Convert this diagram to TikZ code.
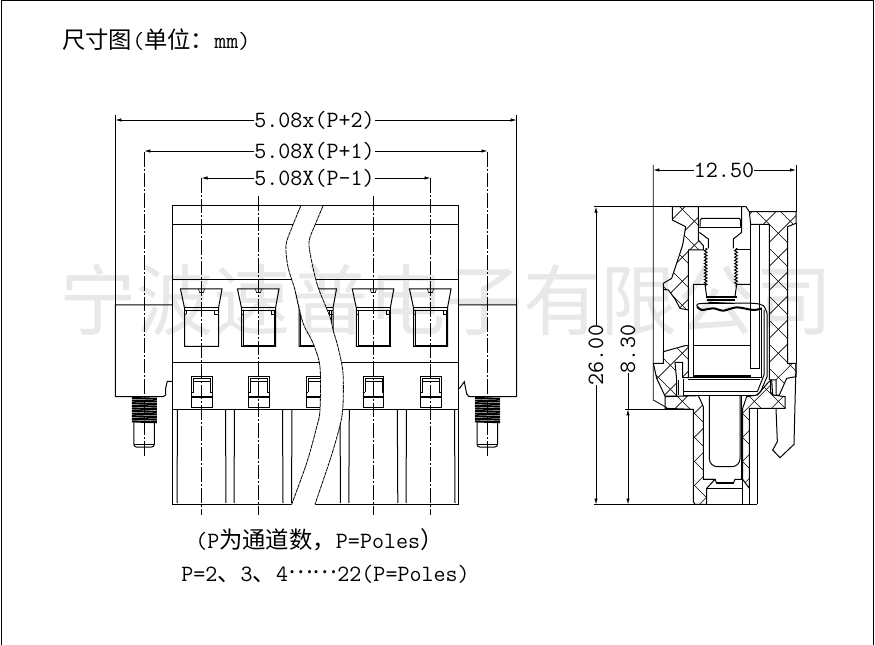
\documentclass[tikz,border=0pt]{standalone}
\usepackage{fontspec}
\newfontfamily\cjk{Noto Sans CJK SC}
\usetikzlibrary{arrows.meta, decorations.pathmorphing}
\tikzset{
	dimtext/.style={font=\ttfamily\fontsize{17.5}{20}\selectfont, inner sep=0pt},
	dimarrow/.style={-{Latex[length=4.5pt,width=2.6pt]}, line width=0.6pt},
	extline/.style={line width=0.6pt},
	cline/.style={line width=0.6pt, dash pattern=on 11pt off 1.5pt on 1.5pt off 1.5pt},
	breakline/.style={line width=0.6pt, dash pattern=on 3pt off 0.5pt},
	part/.style={line width=0.75pt},
	heavy/.style={line width=1.5pt},
	thin part/.style={line width=0.45pt},
}
\newcommand{\hatchlines}{%
	\foreach \c in {-948,-876,...,1100} {\draw[thin part] (-100,-100+\c) -- (600,600+\c);}
	\foreach \c in {26,98,...,1700} {\draw[thin part] (-100,\c+100) -- (600,\c-600);}
}
\newcommand{\hatchzone}[1]{\begin{scope}\clip #1;\hatchlines\end{scope}\draw[part] #1;}
\newcommand{\threadbar}[1]{%
	\foreach \y in {398,400.6,...,422} {\draw[line width=1.6pt] (#1-12.5,\y) -- (#1+12.5,\y+0.8);}
	\draw[part, rounded corners=2] (#1-10.5,423) -- (#1-10.5,447) -- (#1+10,447) -- (#1+10,423);
	\draw[thin part] (#1-10.5,444.5) -- (#1+10,444.5);
}
\begin{document}
\begin{tikzpicture}[x=0.75pt, y=-0.75pt]
	\useasboundingbox (0,0) rectangle (875,645);
	% frame
	\draw[part] (1,645) -- (1,1) -- (873.5,1) -- (873.5,645);
	% front view, body
	\draw[part] (172.5,206) rectangle (458.3,504.3);
	\draw[part] (172.5,225) -- (458.3,225);
	\draw[part] (172.5,280) -- (458.3,280);
	\draw[part] (172.5,363) -- (458.3,363);
	\draw[part] (172.5,409.5) -- (458.3,409.5);
	\foreach \cx in {201.5,258.5,316,373.3,430.5} {
		\draw[part] (\cx-21,289) -- (\cx+20.5,289) -- (\cx+17,308) -- (\cx+17,346.5) -- (\cx-17,346.5) -- (\cx-17,308) -- cycle;
		\draw[part] (\cx-17,308) -- (\cx+17,308);
		\draw[thin part] (\cx-17,310) -- (\cx+17,310);
		\draw[thin part] (\cx-3,289) -- (\cx-2,292.5) -- (\cx+2,292.5) -- (\cx+3,289);
		\draw[thin part] (\cx-15,310) -- (\cx-15,314) -- (\cx-17,315);
		\draw[thin part] (\cx+13,310) -- (\cx+13,314) -- (\cx+17,314);
		\draw[part] (\cx-10,377) rectangle (\cx+10.5,407);
		\draw[heavy] (\cx-10,397) -- (\cx+10.5,397);
		\draw[thin part] (\cx-8,392) -- (\cx-8,378.5) -- (\cx+8.5,378.5) -- (\cx+8.5,392);
		\draw[thin part] (\cx-8,381) -- (\cx+8.5,381);
		\draw[thin part] (\cx-10,392) -- (\cx-8,392);
		\draw[thin part] (\cx+10.5,392) -- (\cx+8.5,392);
		\draw[part] (\cx-24,409.5) -- (\cx-24.5,503);
		\draw[part] (\cx+24,409.5) -- (\cx+24.5,503);
	}
	\foreach \cx in {258.5,316,373.3,430.5} {
		\draw[thin part] (\cx-15.5,310) -- (\cx-15.5,345) -- (\cx+15.5,345) -- (\cx+15.5,310);
	}
	% break in the body
	\fill[white] plot[smooth] coordinates {(300.7,206) (291.7,228) (286,245) (288,267) (295,290) (303,323) (313,343) (320,367) (320,410) (316.7,427) (306.7,463) (291.7,504.8)}
		-- plot[smooth] coordinates {(315,504.8) (330,460) (338,433) (342.7,410) (343,373) (338,347) (333,330) (330,317) (318,287) (312,263) (309,242) (315,225) (323,206)} -- cycle;
	\draw[breakline] plot[smooth] coordinates {(300.7,206) (291.7,228) (286,245) (288,267) (295,290) (303,323) (313,343) (320,367) (320,410) (316.7,427) (306.7,463) (291.7,504.3)};
	\draw[breakline] plot[smooth] coordinates {(323,206) (315,225) (309,242) (312,263) (318,287) (330,317) (333,330) (338,347) (343,373) (342.7,410) (338,433) (330,460) (315,504.3)};
	% flanges and screws
	\draw[part] (172.5,305) -- (115.3,305) -- (115.3,396.7) -- (163,396.7) -- (165.7,395) -- (165.7,388) -- (167.3,381.3) -- (172.5,381.3);
	\draw[part] (458.3,305) -- (516.7,305) -- (516.7,396.7) -- (469,396.7) -- (466.7,394) -- (464.3,381.7) -- (459.3,388.7);
	\threadbar{144.3}
	\threadbar{487.5}
	% centre lines
	\draw[cline] (144.3,152) -- (144.3,457);
	\draw[cline] (487.5,152) -- (487.5,457);
	\draw[cline] (201.5,178) -- (201.5,515);
	\draw[cline] (258.5,196) -- (258.5,515);
	\draw[cline] (373.3,196) -- (373.3,515);
	\draw[cline] (430.5,178) -- (430.5,515);
	% top dimensions
	\node[dimtext] (dimOuter) at (314.5,120) {5.08x(P+2)};
	\node[dimtext] (dimMiddle) at (314.5,151) {5.08X(P+1)};
	\node[dimtext] (dimInner) at (314.5,178) {5.08X(P-1)};
	\coordinate (outerL) at (115.3,120);
	\coordinate (outerR) at (516.7,120);
	\coordinate (middleL) at (144.3,151);
	\coordinate (middleR) at (487.5,151);
	\coordinate (innerL) at (201.5,178);
	\coordinate (innerR) at (430.5,178);
	\draw[extline] (115.3,115) -- (115.3,305);
	\draw[extline] (516.7,115) -- (516.7,305);
	\draw[dimarrow] (dimOuter) -- (outerL);
	\draw[dimarrow] (dimOuter) -- (outerR);
	\draw[dimarrow] (dimMiddle) -- (middleL);
	\draw[dimarrow] (dimMiddle) -- (middleR);
	\draw[dimarrow] (dimInner) -- (innerL);
	\draw[dimarrow] (dimInner) -- (innerR);
	% side view
	\begin{scope}[shift={(640,195)}, x=0.25pt, y=-0.25pt]
		\hatchzone{(97,35) -- (175,35) -- (175,135) -- (190,152) -- (190,165) -- (145,165) -- (145,345) -- (120,340) -- (105,312) -- (85,285) -- (70,283) -- (70,265) -- (95,250) -- (128,150) -- (137,95) -- (97,75) -- cycle}
		\hatchzone{(70,470) -- (135,452) -- (145,452) -- (145,548) -- (128,548) -- (128,502) -- (105,502) -- (110,555) -- (110,603) -- (75,603) -- (50,550) -- (40,505) -- (70,505) -- cycle}
		\hatchzone{(75,605) -- (175,602) -- (190,635) -- (190,853) -- (225,853) -- (200,880) -- (200,928) -- (165,928) -- (160,920) -- (160,643) -- (75,640) -- cycle}
		\hatchzone{(320,605) -- (352,600) -- (385,562) -- (395,555) -- (398,600) -- (435,605) -- (435,640) -- (328,640) -- (328,880) -- (308,853) -- (308,640) -- cycle}
		\hatchzone{(328,50) -- (468,50) -- (468,85) -- (443,95) -- (443,505) -- (468,505) -- (468,545) -- (440,550) -- (418,600) -- (408,600) -- (408,555) -- (388,555) -- (388,88) -- (332,88) -- cycle}
		% screw
		\draw[part] (175,35) -- (318,35) -- (328,50);
		\draw[part] (305,35) -- (305,112) -- (280,132) -- (280,160);
		\draw[part] (178,112) -- (205,132) -- (205,160);
		\draw[part] (180,95) -- (180,76) -- (185,70) -- (298,70) -- (302,76) -- (302,95);
		\draw[part] (175,97) -- (305,97);
		\draw[part, decorate, decoration={zigzag, amplitude=1pt, segment length=2.4pt}] (197,160) -- (197,275);
		\draw[part, decorate, decoration={zigzag, amplitude=1pt, segment length=2.4pt}] (288,160) -- (288,275);
		\draw[part] (285,165) -- (332,165);
		\draw[part] (160,268) -- (195,268) -- (200,305);
		\draw[part] (332,268) -- (290,268) -- (285,305);
		\draw[heavy] (198,305) -- (290,305);
		\draw[heavy] (200,315) -- (285,315);
		\draw[part] (205,322) -- (280,325);
		% terminal and spring
		\draw[part] (70,283) -- (70,505);
		\draw[part] (145,345) -- (145,548);
		\draw[part] (160,268) -- (160,542);
		\draw[part] (332,88) -- (332,520) -- (358,520) -- (358,88);
		\draw[part] (160,452) -- (332,452);
		\draw[heavy] (160,542) -- (332,542);
		\draw[part] (145,548) -- (365,548);
		\draw[part] (145,553) -- (360,553);
		\draw[part] (130,590) -- (350,590);
		\draw[part] (130,600) -- (345,600);
		\draw[part] (130,553) -- (130,600);
		\draw[part] (365,340) -- (365,548);
		\draw[heavy] plot[smooth] coordinates {(172,335) (185,345) (220,340) (250,347) (290,337) (340,345) (365,340)};
		\draw[part] plot[smooth] coordinates {(172,335) (178,326) (260,325) (340,325) (370,332) (381,355)};
		\draw[part] (381,355) -- (381,545) -- (362,590) -- (350,600);
		\draw[part] (372,345) -- (372,540) -- (352,590);
		\draw[part] (392,555) -- (392,592) -- (400,600);
		\draw[part] (115,555) -- (115,600);
		% post
		\draw[part, rounded corners=6] (208,600) -- (208,815) -- (300,815) -- (300,600);
		\draw[part] (304,600) -- (304,853);
		\draw[part] (190,853) -- (225,853) -- (230,865) -- (280,865) -- (285,853) -- (308,853);
		\draw[part] (230,862) -- (280,862);
		\draw[part] (200,880) -- (310,880);
		\draw[part] (308,853) -- (308,928);
		\draw[part] (328,880) -- (328,928);
		\draw[part] (352,640) -- (352,928);
		\draw[part] (160,928) -- (352,928);
		% latch
		\draw[part] (408,640) -- (412,740) -- (398,765) -- (420,788) -- (462,748) -- (468,505);
		% extension lines
		\draw[extline] (40,-90) -- (40,615) -- (80,638);
		\draw[extline] (468,-90) -- (468,50);
		\draw[extline] (468,85) -- (468,505);
		\coordinate (topExt) at (-138,35);
		\coordinate (botExt) at (-138,928);
		\coordinate (pinExt) at (-45,643);
		\draw[extline] (topExt) -- (97,35);
		\draw[extline] (botExt) -- (165,928);
		\draw[extline] (pinExt) -- (160,643);
	\end{scope}
	% side view dimensions
	\node[dimtext] (dimWidth) at (724,170) {12.50};
	\coordinate (widthL) at (653.3,170);
	\coordinate (widthR) at (796,170);
	\draw[dimarrow] (dimWidth) -- (widthL);
	\draw[dimarrow] (dimWidth) -- (widthR);
	\node[dimtext, rotate=90] (dimHeight) at (596,355) {26.00};
	\coordinate (heightT) at (596,206.7);
	\coordinate (heightB) at (596,504.5);
	\draw[dimarrow] (dimHeight) -- (heightT);
	\draw[dimarrow] (dimHeight) -- (heightB);
	\node[dimtext, rotate=90] (dimPin) at (628,349) {8.30};
	\coordinate (pinT) at (628,409.3);
	\coordinate (pinB) at (628,504.5);
	\coordinate (pinM) at (628,430);
	\draw[extline] (dimPin) -- (pinT);
	\draw[dimarrow] (pinM) -- (pinT);
	\draw[dimarrow] (pinM) -- (pinB);
	% texts
	\node[dimtext, anchor=west] (title) at (62,40) {{\cjk 尺寸图}({\cjk 单位：}mm)};
	\node[dimtext, anchor=west] (noteA) at (195,540) {(P{\cjk 为通道数，}P=Poles{\cjk ）}};
	\node[dimtext, anchor=west] (noteB) at (181,574) {P=2{\cjk 、}3{\cjk 、}4\raisebox{0.32em}{\cjk ……}22(P=Poles)};
	% watermark
	\node[font=\cjk\fontsize{58}{60}\selectfont, text opacity=0.09, inner sep=0pt] (mark) at (446,300) {宁波速普电子有限公司};
\end{tikzpicture}
\end{document}
